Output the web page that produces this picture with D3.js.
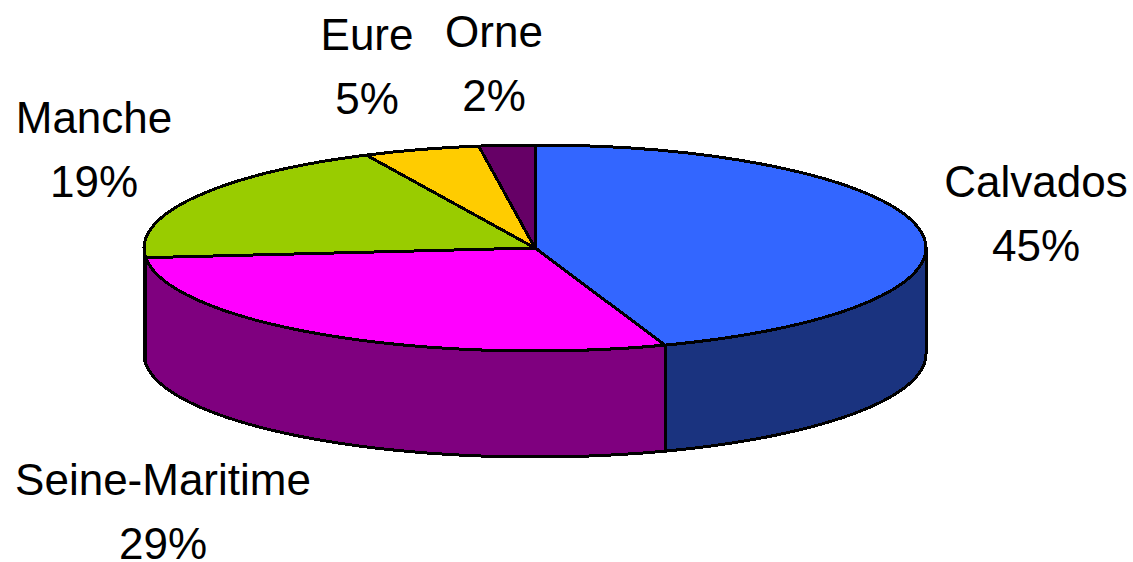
<!DOCTYPE html>
<html>
<head>
<meta charset="utf-8">
<script src="https://cdn.jsdelivr.net/npm/d3@7"></script>
<style>
    html, body { margin: 0; padding: 0; background: #fff; overflow: hidden; }
    svg { display: block; }
    text { font-family: "Liberation Sans", Arial, sans-serif; font-size: 44px; fill: #000; }
</style>
</head>
<body>
<div id="chart"></div>
<script>
const departments = ["Calvados", "Seine-Maritime", "Manche", "Eure", "Orne"];
// slice sizes, the labels show them rounded
const shares = [44.6, 28.9, 19.4, 4.8, 2.3];
const topColors = ["#3366ff", "#ff00ff", "#99cc00", "#ffcc00", "#660066"];
const sideColors = ["#1a337f", "#7f007f", "#4c6600", "#7f6600", "#330033"];

const w = 1133;
const h = 562;
const cx = 535;
const cy = 248;
const rx = 391;
const ry = 103;
const depth = 106;

const svg = d3.select("#chart")
    .append("svg")
    .attr("width", w)
    .attr("height", h);

// pie angles start at 12 o'clock and run clockwise
const arcs = d3.pie().sort(null).value(d => d)(shares);

// point on the rim of the ellipse
function rim(a, drop) {
    return [cx + rx * Math.sin(a), cy - ry * Math.cos(a) + drop];
}

// Only the front half of the wall can be seen (angles 90 to 270 degrees)
const wallLine = d3.line();
svg.selectAll("path.wall")
    .data(arcs)
    .enter()
    .append("path")
    .attr("class", "wall")
    .attr("d", function (d) {
        const a0 = Math.max(d.startAngle, Math.PI / 2);
        const a1 = Math.min(d.endAngle, Math.PI * 3 / 2);
        if (a1 <= a0) return null;
        const steps = d3.range(0, 61).map(i => a0 + (a1 - a0) * i / 60);
        const pts = steps.map(a => rim(a, 0))
            .concat(steps.slice().reverse().map(a => rim(a, depth)));
        return wallLine(pts) + "Z";
    })
    .attr("fill", (d, i) => sideColors[i])
    .attr("stroke", "#000")
    .attr("stroke-width", 3)
    .attr("shape-rendering", "crispEdges");

// Top face: flat d3 arcs squashed into an ellipse
const arc = d3.arc().innerRadius(0).outerRadius(rx);
svg.append("g")
    .attr("transform", `translate(${cx},${cy}) scale(1,${ry / rx})`)
    .selectAll("path")
    .data(arcs)
    .enter()
    .append("path")
    .attr("d", arc)
    .attr("fill", (d, i) => topColors[i])
    .attr("stroke", "#000")
    .attr("stroke-width", 3)
    .attr("vector-effect", "non-scaling-stroke")
    .attr("shape-rendering", "crispEdges");

// label anchors, in the order of departments
const labelX = [1036, 163, 94, 367, 494];
const labelY = [197, 495, 133, 50, 47];

const labels = svg.selectAll("g.label")
    .data(departments)
    .enter()
    .append("g")
    .attr("class", "label")
    .attr("text-anchor", "middle")
    .attr("transform", (d, i) => `translate(${labelX[i]},${labelY[i]})`);

labels.append("text").text(d => d);
labels.append("text")
    .attr("y", 64)
    .text((d, i) => Math.round(shares[i]) + "%");
</script>
</body>
</html>
